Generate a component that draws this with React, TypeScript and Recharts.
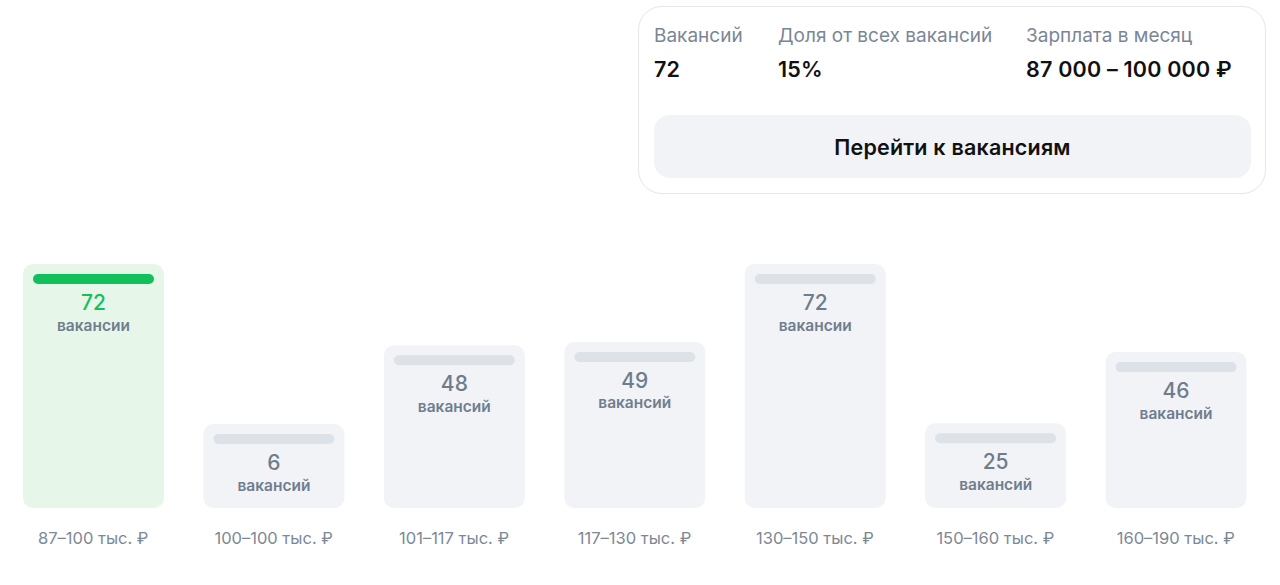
import { BarChart, Bar, XAxis, YAxis } from 'recharts'

const ranges = [
  '87–100 тыс. ₽',
  '100–100 тыс. ₽',
  '101–117 тыс. ₽',
  '117–130 тыс. ₽',
  '130–150 тыс. ₽',
  '150–160 тыс. ₽',
  '160–190 тыс. ₽',
]
const vacancies = [72, 6, 48, 49, 72, 25, 46]
const activeIndex = 0

const cardLabels = ['Вакансий', 'Доля от всех вакансий', 'Зарплата в месяц']
const cardValues = ['72', '15%', '87 000 – 100 000 ₽']
const buttonText = 'Перейти к вакансиям'

const FONT = 'Inter, "Noto Sans", sans-serif'
const MIN_H = 84

const data = ranges.map((range, i) => ({ range, count: vacancies[i] }))

function plural(n: number) {
  const m10 = n % 10
  const m100 = n % 100
  if (m10 === 1 && m100 !== 11) return 'вакансия'
  if (m10 >= 2 && m10 <= 4 && (m100 < 12 || m100 > 14)) return 'вакансии'
  return 'вакансий'
}

interface ShapeProps {
  x?: number
  y?: number
  width?: number
  height?: number
  index?: number
  payload?: { count: number }
}

// bar with a min height, a stripe on top and the count inside
const VacancyBar = (props: ShapeProps) => {
  const { x = 0, y = 0, width = 0, height = 0, index = 0, payload } = props
  const h = Math.max(height, MIN_H)
  const top = y + height - h
  const active = index === activeIndex
  const n = payload ? payload.count : 0
  const cx = x + width / 2
  return (
    <g>
      <rect x={x} y={top} width={width} height={h} rx={10} fill={active ? '#e6f7e9' : '#f1f3f6'} />
      <rect x={x + 10} y={top + 10} width={width - 20} height={10} rx={5} fill={active ? '#12c05b' : '#dde2e9'} />
      <text x={cx} y={top + 38.5} textAnchor="middle" dominantBaseline="central"
        fontFamily={FONT} fontSize={21} fontWeight={500} fill={active ? '#17bf5a' : '#6f7c8d'}>
        {n}
      </text>
      <text x={cx} y={top + 61} textAnchor="middle" dominantBaseline="central"
        fontFamily={FONT} fontSize={15.5} fontWeight={600} fill="#707d8e">
        {plural(n)}
      </text>
    </g>
  )
}

interface TickProps {
  x?: number
  y?: number
  payload?: { value: string }
}

const RangeTick = ({ x = 0, y = 0, payload }: TickProps) => (
  <text x={x} y={y + 30} textAnchor="middle" dominantBaseline="central"
    fontFamily={FONT} fontSize={16.5} fill="#7d8896">
    {payload ? payload.value : ''}
  </text>
)

export default function App() {
  return (
    <div style={{ position: 'absolute', left: 0, top: 0, width: 1280, height: 585, background: '#fff', fontFamily: FONT }}>
      <BarChart width={1280} height={585} data={data} margin={{ top: 264, right: 14, left: 3, bottom: 0 }}>
        <XAxis dataKey="range" axisLine={false} tickLine={false} tickSize={0} tickMargin={0}
          height={77} interval={0} tick={<RangeTick />} />
        <YAxis hide domain={[0, 72]} />
        <Bar dataKey="count" barSize={141} shape={<VacancyBar />} isAnimationActive={false} />
      </BarChart>

      <div style={{
        position: 'absolute', left: 638, top: 6, width: 628, height: 188, boxSizing: 'border-box',
        border: '1px solid #e4e7eb', borderRadius: 24, background: '#fff',
      }}>
        <div style={{ position: 'absolute', left: 15, top: 16, display: 'flex' }}>
          {cardLabels.map((label, i) => (
            <div key={label} style={{ width: [124, 248, 240][i] }}>
              <div style={{ fontSize: 19, color: '#7b8695', lineHeight: '26px' }}>{label}</div>
              <div style={{ fontSize: 21.5, fontWeight: 600, color: '#111', lineHeight: '28px', marginTop: 6, letterSpacing: 0.2 }}>{cardValues[i]}</div>
            </div>
          ))}
        </div>
        <div style={{
          position: 'absolute', left: 15, top: 108, width: 597, height: 63, borderRadius: 16,
          background: '#f1f3f6', display: 'flex', alignItems: 'center', justifyContent: 'center',
          fontSize: 21.5, fontWeight: 600, color: '#111', letterSpacing: 0.2,
        }}>
          {buttonText}
        </div>
      </div>
    </div>
  )
}
